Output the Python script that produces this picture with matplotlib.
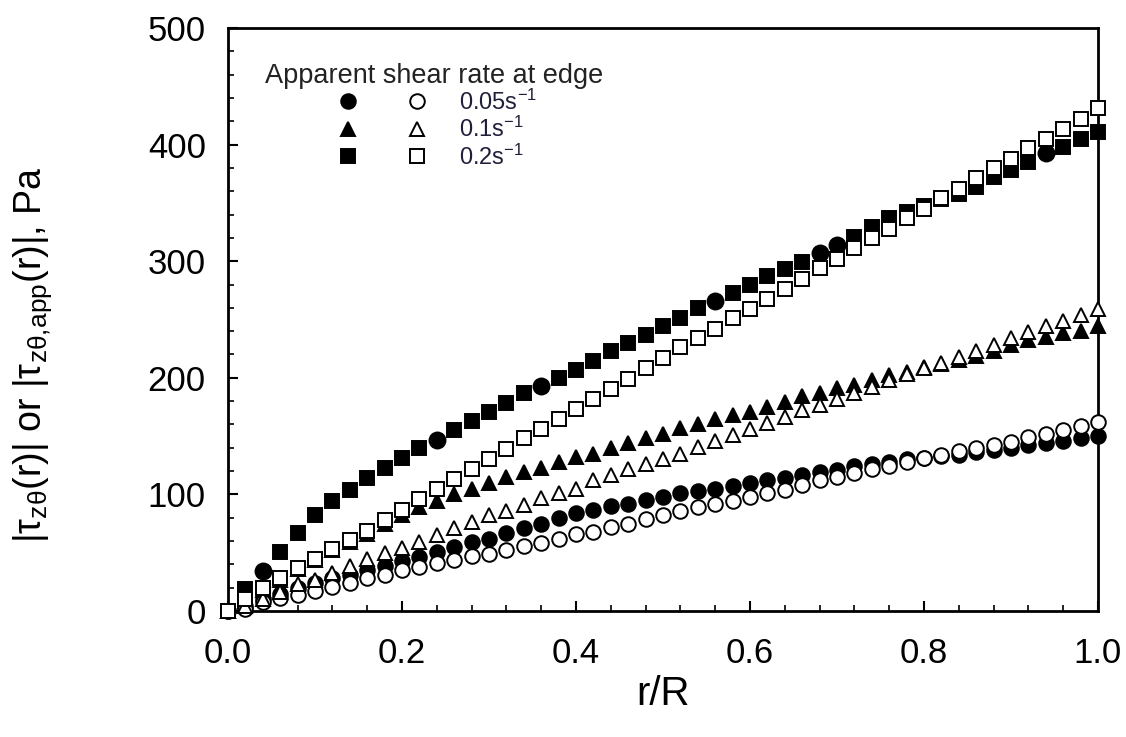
import numpy as np
import matplotlib
matplotlib.use("Agg")
import matplotlib.pyplot as plt
from matplotlib.legend_handler import HandlerTuple
from matplotlib.ticker import MultipleLocator, FormatStrFormatter

plt.rcParams['font.family'] = ['Liberation Sans', 'DejaVu Sans']
plt.rcParams['mathtext.default'] = 'regular'
plt.rcParams['mathtext.fontset'] = 'custom'
plt.rcParams['mathtext.rm'] = 'Liberation Sans'
plt.rcParams['mathtext.it'] = 'Liberation Sans'

# ---------------- data ----------------
r_over_R = np.round(np.arange(0, 1.0001, 0.02), 2)

# 0.05 s^-1
tau_005 = [0, 4, 10, 15, 20, 24, 28, 31, 35, 39, 43, 46, 51, 55, 59, 62, 67, 71, 75, 80,
           84, 87, 90, 92, 95, 98, 101, 103, 105, 107, 110, 112, 114, 117, 119, 121, 124,
           126, 128, 130, 131, 133, 134, 136, 138, 140, 142, 144, 146, 148, 150]
app_005 = [0, 2, 8, 11, 14, 17, 21, 24, 28, 31, 35, 38, 41, 44, 47, 49, 52, 56, 58, 62,
           66, 68, 72, 75, 79, 82, 86, 89, 92, 94, 98, 101, 104, 108, 112, 115, 118, 122,
           124, 128, 131, 134, 137, 140, 142, 145, 149, 152, 155, 159, 162]

# 0.1 s^-1
tau_01 = [0, 9, 18, 27, 36, 44, 52, 59, 66, 75, 82, 89, 94, 100, 105, 110, 115, 119, 123,
          128, 132, 135, 140, 144, 148, 152, 157, 160, 165, 168, 171, 175, 179, 184, 187,
          191, 194, 198, 202, 205, 209, 212, 215, 219, 223, 228, 232, 235, 238, 240, 244]
app_01 = [0, 4, 10, 16, 23, 27, 33, 39, 45, 50, 54, 59, 65, 71, 76, 82, 86, 91, 97, 101,
          105, 112, 117, 122, 126, 130, 135, 141, 146, 151, 156, 161, 166, 172, 177, 182,
          187, 192, 198, 203, 208, 213, 218, 223, 228, 234, 239, 244, 249, 254, 259]

# 0.2 s^-1
tau_02 = [0, 19, 34, 51, 67, 82, 94, 104, 114, 123, 131, 140, 147, 155, 163, 171, 178,
          187, 193, 200, 207, 214, 223, 230, 237, 244, 251, 260, 266, 273, 280, 287, 293,
          299, 307, 314, 321, 329, 337, 342, 347, 353, 358, 364, 372, 378, 385, 393, 398,
          405, 411]
app_02 = [0, 10, 20, 28, 37, 45, 53, 61, 69, 78, 87, 96, 105, 113, 122, 130, 139, 148,
          156, 165, 173, 182, 190, 199, 208, 217, 226, 234, 242, 251, 259, 268, 276, 285,
          294, 302, 311, 320, 328, 337, 345, 354, 362, 371, 380, 388, 397, 405, 413, 422, 431]

# points of the 0.2 s^-1 filled series that the original drew with a round symbol
round_symbol_r = [0.04, 0.24, 0.36, 0.56, 0.68, 0.70, 0.94]

labels = ['0.05s$^{-1}$', '0.1s$^{-1}$', '0.2s$^{-1}$']
legend_title = 'Apparent shear rate at edge'
x_ticks = [0.0, 0.2, 0.4, 0.6, 0.8, 1.0]
y_ticks = [0, 100, 200, 300, 400, 500]

# ---------------- figure ----------------
fig = plt.figure(figsize=(11.26, 7.37), dpi=100)
ax = fig.add_axes([228 / 1126, 1 - 611 / 737, 870 / 1126, 583 / 737])

ms = 10.5
mew = 1.4
common = dict(linestyle='none', clip_on=False, markeredgecolor='black', markeredgewidth=mew)

h_fc, = ax.plot(r_over_R, tau_005, marker='o', markerfacecolor='black', markersize=ms, zorder=3, **common)
h_ft, = ax.plot(r_over_R, tau_01, marker='^', markerfacecolor='black', markersize=ms, zorder=3, **common)

sq_mask = np.isin(r_over_R, np.round(round_symbol_r, 2))
x_sq = np.where(sq_mask, np.nan, r_over_R)
h_fs, = ax.plot(x_sq, tau_02, marker='s', markerfacecolor='black', markersize=ms - 0.5, zorder=3, **common)
ax.plot(r_over_R[sq_mask], np.asarray(tau_02)[sq_mask], marker='o', markerfacecolor='black',
        markersize=ms + 1.0, zorder=3, **common)

h_oc, = ax.plot(r_over_R, app_005, marker='o', markerfacecolor='white', markersize=ms, zorder=4, **common)
h_ot, = ax.plot(r_over_R, app_01, marker='^', markerfacecolor='white', markersize=ms, zorder=4, **common)
h_os, = ax.plot(r_over_R, app_02, marker='s', markerfacecolor='white', markersize=ms - 0.5, zorder=4, **common)

ax.set_xlim(0, 1.0)
ax.set_ylim(0, 500)
ax.set_xticks(x_ticks)
ax.set_yticks(y_ticks)
ax.xaxis.set_major_formatter(FormatStrFormatter('%.1f'))
ax.xaxis.set_minor_locator(MultipleLocator(0.04))
ax.yaxis.set_minor_locator(MultipleLocator(20))
ax.tick_params(axis='both', which='major', direction='in', length=7.5, width=1.5,
               labelsize=25, top=False, right=False)
ax.tick_params(axis='x', which='major', pad=19)
ax.tick_params(axis='y', which='major', pad=16)
ax.tick_params(axis='both', which='minor', direction='in', length=4.5, width=1.2,
               top=False, right=False)
for s in ax.spines.values():
    s.set_linewidth(2.0)

ax.set_xlabel('r/R', fontsize=29)
ax.xaxis.set_label_coords(0.5, -0.11)
ax.xaxis.label.set_va('top')
ax.set_ylabel(r'|$\tau_{z\theta}$(r)| or |$\tau_{z\theta,\!app}$(r)|, Pa', fontsize=27)
ax.yaxis.set_label_coords(-0.2, 0.44)

ax.text(0.0425, 0.918, legend_title, transform=ax.transAxes, fontsize=19.5,
        ha='left', va='center', color='#222222')

leg = ax.legend([(h_fc, h_oc), (h_ft, h_ot), (h_fs, h_os)], labels,
                handler_map={tuple: HandlerTuple(ndivide=None, pad=0)},
                loc='upper left', bbox_to_anchor=(0.0977, 0.895), frameon=False,
                fontsize=17, handlelength=5.9, handletextpad=0.3, labelspacing=0.1,
                borderpad=0, borderaxespad=0, numpoints=1)
for t in leg.get_texts():
    t.set_color('#1f1f3a')

fig.savefig('out.png', dpi=100)
